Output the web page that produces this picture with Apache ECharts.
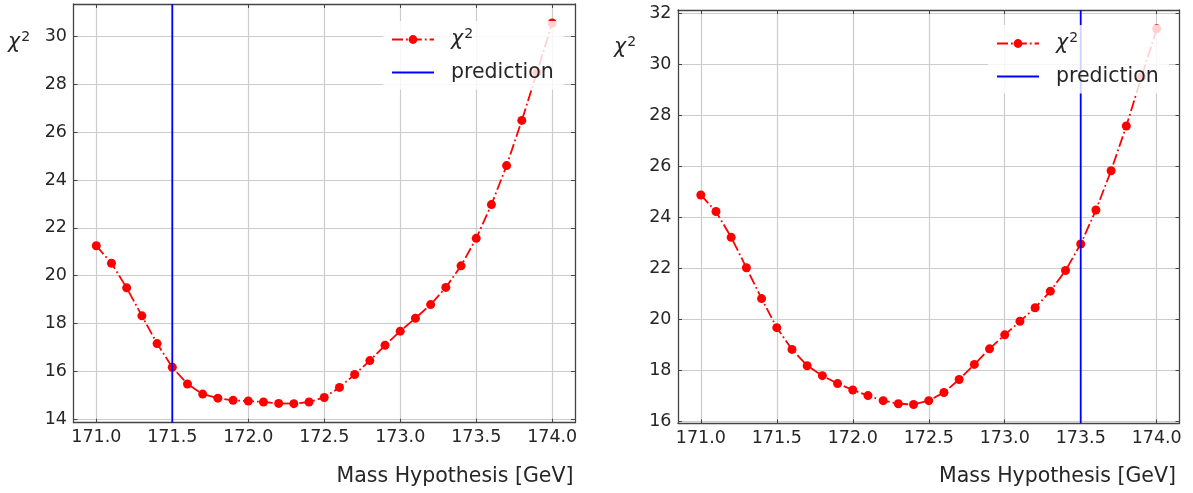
<!DOCTYPE html>
<html>
<head>
<meta charset="utf-8">
<script src="https://cdn.jsdelivr.net/npm/echarts@6/dist/echarts.min.js"></script>
<style>html,body{margin:0;padding:0;background:#fff}#c{width:1193px;height:493px}</style>
</head>
<body>
<div id="c"></div>
<script>
// ---- data ----
const massValues = [171.0,171.1,171.2,171.3,171.4,171.5,171.6,171.7,171.8,171.9,172.0,172.1,172.2,172.3,172.4,172.5,172.6,172.7,172.8,172.9,173.0,173.1,173.2,173.3,173.4,173.5,173.6,173.7,173.8,173.9,174.0];
const chi2Left = [21.25,20.52,19.49,18.32,17.16,16.17,15.47,15.05,14.88,14.79,14.76,14.72,14.66,14.65,14.72,14.91,15.33,15.87,16.45,17.09,17.68,18.22,18.79,19.51,20.41,21.56,22.97,24.60,26.49,28.5,30.56];
const chi2Right = [24.88,24.23,23.22,22.03,20.82,19.68,18.83,18.19,17.80,17.49,17.24,17.02,16.82,16.70,16.67,16.82,17.14,17.65,18.24,18.85,19.40,19.93,20.46,21.11,21.92,22.96,24.29,25.83,27.58,29.5,31.39];
const predictionLeft = 171.5;
const predictionRight = 173.5;
const xTickValues = [171.0,171.5,172.0,172.5,173.0,173.5,174.0];
const yTickLeft = [14,16,18,20,22,24,26,28,30];
const yTickRight = [16,18,20,22,24,26,28,30,32];
const seriesNames = ['χ²','prediction'];
const xAxisTitle = 'Mass Hypothesis [GeV]';

// axis ranges (matplotlib-like 5% margins)
function range(arr){const mn=Math.min(...arr),mx=Math.max(...arr),m=(mx-mn)*0.05;return [mn-m,mx+m];}
const xr = range(massValues);
const yrL = range(chi2Left);
const yrR = range(chi2Right);

const frame = '#444444';
const gridC = '#cccccc';
const txt = '#262626';
const font = 'DejaVu Sans';
const tickFS = 17.5;

function xAxes(gi, ticks){
  return [
    {type:'value', gridIndex:gi, position:'bottom', min:xr[0], max:xr[1],
     axisLine:{show:true,lineStyle:{color:frame,width:1.3}},
     axisTick:{show:true,inside:true,length:4,customValues:ticks,lineStyle:{color:frame}},
     axisLabel:{show:true,customValues:ticks,margin:6,color:txt,fontSize:tickFS,fontFamily:font,formatter:v=>Number(v).toFixed(1)},
     splitLine:{show:true,lineStyle:{color:gridC,width:1.2}}},
    {type:'value', gridIndex:gi, position:'top', min:xr[0], max:xr[1],
     axisLine:{show:true,lineStyle:{color:frame,width:1.3}},
     axisTick:{show:true,inside:true,length:4,customValues:ticks,lineStyle:{color:frame}},
     axisLabel:{show:false}, splitLine:{show:false}}
  ];
}
function yAxes(gi, yr, ticks){
  return [
    {type:'value', gridIndex:gi, position:'left', min:yr[0], max:yr[1],
     axisLine:{show:true,lineStyle:{color:frame,width:1.3}},
     axisTick:{show:true,inside:true,length:4,customValues:ticks,lineStyle:{color:frame}},
     axisLabel:{show:true,customValues:ticks,margin:6.5,color:txt,fontSize:tickFS,fontFamily:font},
     splitLine:{show:true,lineStyle:{color:gridC,width:1.2}}},
    {type:'value', gridIndex:gi, position:'right', min:yr[0], max:yr[1],
     axisLine:{show:true,lineStyle:{color:frame,width:1.3}},
     axisTick:{show:true,inside:true,length:4,customValues:ticks,lineStyle:{color:frame}},
     axisLabel:{show:false}, splitLine:{show:false}}
  ];
}

function chiSeries(xi, yi, vals){
  return {name:seriesNames[0], type:'line', xAxisIndex:xi, yAxisIndex:yi,
    data: massValues.map((m,i)=>[m, vals[i]]),
    symbol:'circle', symbolSize:9, showSymbol:true,
    itemStyle:{color:'#ff0000'},
    lineStyle:{color:'#ff0000', width:1.8, type:[11,3,1.8,3]},
    z:2, animation:false};
}
function predSeries(xi, yi, pos, yr){
  return {name:seriesNames[1], type:'line', xAxisIndex:xi, yAxisIndex:yi,
    data:[[pos, yr[0]],[pos, yr[1]]], symbol:'none',
    lineStyle:{color:'#0000ff', width:1.8}, itemStyle:{color:'#0000ff'}, z:3, animation:false};
}

const legendRich = {i:{fontStyle:'italic',fontSize:20.5,fontFamily:font,color:txt,lineHeight:22},
                    s:{fontSize:14,fontFamily:font,color:txt,padding:[0,0,11,1],lineHeight:22}};
function legendFmt(n){return n===seriesNames[0] ? '{i|χ}{s|2}' : n;}
function legend(left, top){
  return {data:[{name:seriesNames[0]},{name:seriesNames[1], itemStyle:{opacity:0}}],
    orient:'vertical', left:left, top:top, itemWidth:42, itemHeight:11, itemGap:9.5,
    padding:[6,10,6,8], backgroundColor:'rgba(255,255,255,0.82)', borderRadius:3, z:10,
    selectedMode:false, formatter:legendFmt,
    textStyle:{fontSize:20.5, fontFamily:font, color:txt, lineHeight:22, padding:[0,0,0,12], rich:legendRich}};
}

const axTitleRich = {i:{fontStyle:'italic',fontSize:20.5,fontFamily:font,fill:txt},
                     s:{fontSize:14,fontFamily:font,fill:txt,padding:[0,0,11,1]}};

const chart = echarts.init(document.getElementById('c'), null, {renderer:'canvas'});
chart.setOption({
  animation:false,
  backgroundColor:'#ffffff',
  grid:[{left:73.5, right:618, top:4, bottom:70.3},
        {left:678, right:13.5, top:10, bottom:69.7}],
  xAxis:[...xAxes(0, xTickValues), ...xAxes(1, xTickValues)],
  yAxis:[...yAxes(0, yrL, yTickLeft), ...yAxes(1, yrR, yTickRight)],
  legend:[legend(383, 21), legend(988, 25)],
  series:[chiSeries(0,0,chi2Left), predSeries(0,0,predictionLeft,yrL),
          chiSeries(2,2,chi2Right), predSeries(2,2,predictionRight,yrR)],
  graphic:[
    {type:'text', x:8, y:43, style:{text:'{i|χ}{s|2}', rich:axTitleRich, font:'20.5px DejaVu Sans', verticalAlign:'middle'}},
    {type:'text', x:614, y:48, style:{text:'{i|χ}{s|2}', rich:axTitleRich, font:'20.5px DejaVu Sans', verticalAlign:'middle'}},
    {type:'text', x:573.5, y:477, style:{text:xAxisTitle, fill:txt, font:'20.5px DejaVu Sans', align:'right', verticalAlign:'middle'}},
    {type:'text', x:1176, y:477, style:{text:xAxisTitle, fill:txt, font:'20.5px DejaVu Sans', align:'right', verticalAlign:'middle'}}
  ]
});
</script>
</body>
</html>
